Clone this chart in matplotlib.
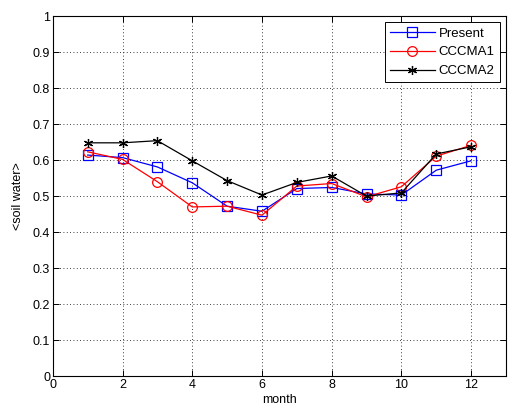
import matplotlib
matplotlib.use('Agg')
import matplotlib.pyplot as plt
import numpy as np

plt.rcParams['font.family'] = ['Liberation Sans', 'DejaVu Sans']

# values
months = np.arange(1, 13)
present = [0.614, 0.607, 0.581, 0.537, 0.472, 0.458, 0.521, 0.524, 0.506, 0.503, 0.572, 0.598]
cccma1 = [0.623, 0.602, 0.540, 0.470, 0.472, 0.447, 0.528, 0.535, 0.498, 0.526, 0.611, 0.641]
cccma2 = [0.648, 0.648, 0.654, 0.598, 0.543, 0.503, 0.538, 0.556, 0.500, 0.509, 0.617, 0.637]

fig = plt.figure(figsize=(5.08, 4.12), dpi=100)
ax = fig.add_axes([0.104, 0.087, 0.892, 0.874])

ax.plot(months, present, color='#0000ff', lw=0.9, marker='s', ms=7,
        mfc='none', mec='#0000ff', mew=0.9, label='Present')
ax.plot(months, cccma1, color='#ff0000', lw=0.9, marker='o', ms=7,
        mfc='none', mec='#ff0000', mew=0.9, label='CCCMA1')
# matlab style asterisk
ax.plot(months, cccma2, color='black', lw=0.9, marker=(6, 2, 0), ms=6.5,
        mec='black', mew=0.9, label='CCCMA2')

ax.set_xlim(0, 13)
ax.set_ylim(0, 1)
ax.set_xticks(np.arange(0, 13, 2))
ax.set_yticks(np.arange(0, 1.01, 0.1))
ax.set_yticklabels(['0', '0.1', '0.2', '0.3', '0.4', '0.5', '0.6', '0.7', '0.8', '0.9', '1'])
ax.tick_params(direction='in', top=True, right=True, labelsize=9, length=4, width=0.7, pad=2)
ax.grid(True, color='black', linestyle=(0, (1, 3)), linewidth=0.6)
for s in ax.spines.values():
    s.set_linewidth(0.8)

ax.set_xlabel('month', fontsize=9, labelpad=2)
ax.set_ylabel('<soil water>', fontsize=9, labelpad=6)

leg = ax.legend(loc='upper right', fontsize=9.5, fancybox=False, edgecolor='black',
                framealpha=1, handlelength=3.4, borderaxespad=0.45, labelspacing=0.5,
                borderpad=0.4, handletextpad=0.3)
leg.get_frame().set_linewidth(0.7)

fig.savefig('out.png', dpi=100)
